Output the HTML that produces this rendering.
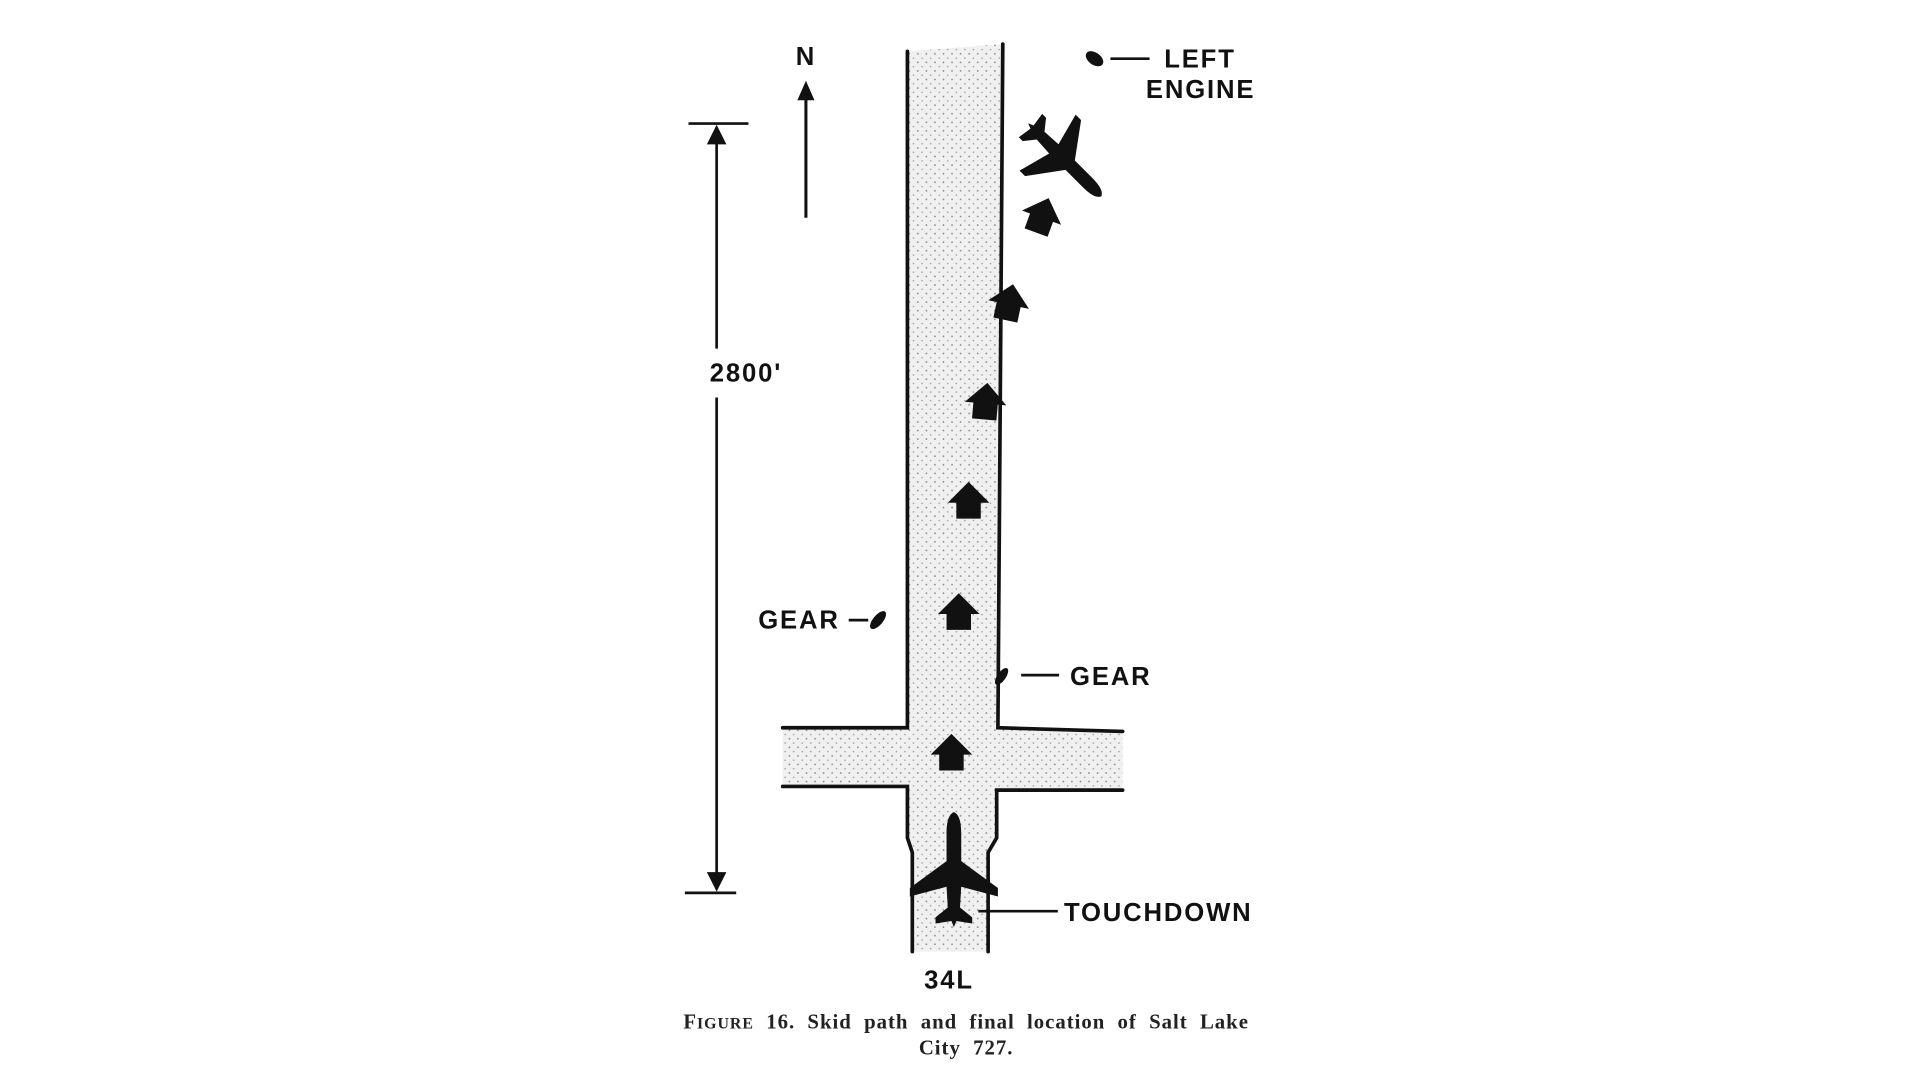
<!DOCTYPE html>
<html><head><meta charset="utf-8"><style>
html,body{margin:0;padding:0;background:#fff;}
svg{display:block}
.t{font-family:"Liberation Sans",sans-serif;font-weight:bold;font-size:21px;fill:#111;letter-spacing:1.5px}
.c{font-family:"Liberation Serif",serif;font-weight:bold;font-size:17px;fill:#222;letter-spacing:0.8px;word-spacing:5px}
</style></head><body>
<svg width="1920" height="1080" viewBox="0 0 1570 883" preserveAspectRatio="none" xmlns="http://www.w3.org/2000/svg">
<defs>
<pattern id="dots" width="7" height="7" patternUnits="userSpaceOnUse">
<rect width="7" height="7" fill="#f0f0f0"/>
<circle cx="1.5" cy="2" r="0.7" fill="#888"/>
<circle cx="5" cy="5.5" r="0.6" fill="#999"/>
</pattern>
<path id="house" d="M0,-16 L17,1 L10,1 L10,14 L-10,14 L-10,1 L-17,1 Z"/>
<path id="plane" d="M0,-48 C5,-46 6,-38 6,-30 L6,-8 L36,14 L36,21 L6,13 L5,30 L15,38 L15,43 L2,41 L0,46 L-2,41 L-15,43 L-15,38 L-5,30 L-6,13 L-36,21 L-36,14 L-6,-8 L-6,-30 C-6,-38 -5,-46 0,-48 Z"/>
</defs>
<path d="M742,42 L820,36 L815,595 L918,598 L918,646 L815,646 L815,685 L808,697 L808,778 L746,778 L746,697 L742,685 L742,643 L640,643 L640,595 L742,595 Z" fill="url(#dots)"/>
<g stroke="#111" stroke-width="3" fill="none" stroke-linecap="round">
<path d="M742,42 L742,595 L640,595"/>
<path d="M820,36 L816,595 L918,598"/>
<path d="M640,643 L742,643 L742,685 L746,697 L746,778"/>
<path d="M918,646 L815,646 L815,685 L808,697 L808,778"/>
</g>
<line x1="659" y1="178" x2="659" y2="78" stroke="#111" stroke-width="2.5"/>
<path d="M652,82 L659,66 L666,82 Z" fill="#111"/>
<text x="659" y="53" class="t" text-anchor="middle">N</text>
<g stroke="#111" stroke-width="2.2">
<line x1="563" y1="101" x2="612" y2="101"/>
<line x1="560" y1="730" x2="602" y2="730"/>
<line x1="586" y1="110" x2="586" y2="285"/>
<line x1="586" y1="325" x2="586" y2="720"/>
</g>
<path d="M578,118 L586,102 L594,118 Z" fill="#111"/>
<path d="M578,713 L586,729 L594,713 Z" fill="#111"/>
<text x="610" y="312" class="t" text-anchor="middle">2800'</text>
<g fill="#111">
<use href="#house" transform="translate(852,177) rotate(20)"/>
<use href="#house" transform="translate(825,248) rotate(12)"/>
<use href="#house" transform="translate(806,329) rotate(5)"/>
<use href="#house" transform="translate(792,410)"/>
<use href="#house" transform="translate(784,501)"/>
<use href="#house" transform="translate(778,616)"/>
<use href="#plane" transform="translate(780,712)"/>
<use href="#plane" transform="translate(870,130) rotate(135) scale(0.9)"/>
<ellipse cx="718" cy="507" rx="4" ry="9" transform="rotate(40 718 507)"/>
<ellipse cx="819" cy="553" rx="3.5" ry="8" transform="rotate(35 819 553)"/>
<ellipse cx="895" cy="48" rx="8" ry="5" transform="rotate(35 895 48)"/>
</g>
<g stroke="#111" stroke-width="2.2">
<line x1="694" y1="507" x2="710" y2="507"/>
<line x1="835" y1="552" x2="866" y2="552"/>
<line x1="908" y1="48" x2="940" y2="48"/>
<line x1="800" y1="745" x2="865" y2="745"/>
</g>
<text x="620" y="514" class="t">GEAR</text>
<text x="875" y="560" class="t">GEAR</text>
<text x="952" y="55" class="t">LEFT</text>
<text x="937" y="80" class="t">ENGINE</text>
<text x="870" y="753" class="t">TOUCHDOWN</text>
<text x="776" y="808" class="t" text-anchor="middle">34L</text>
<text x="790" y="841" class="c" text-anchor="middle">F<tspan font-size="13">IGURE</tspan> 16.  Skid path and final location of Salt Lake</text>
<text x="790" y="862" class="c" text-anchor="middle">City 727.</text>
</svg>
</body></html>
